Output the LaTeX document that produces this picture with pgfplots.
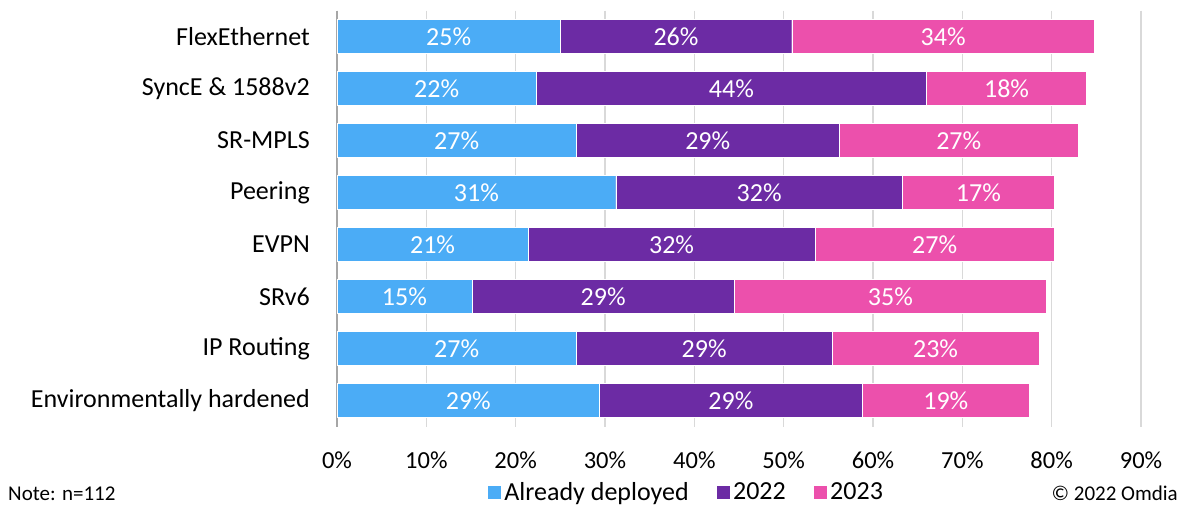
\documentclass[border=0pt]{standalone}
\usepackage{pgfplots}
\usepackage{pgfplotstable}
\pgfplotsset{compat=1.18}
\usepackage{fontspec}
\setmainfont{Carlito}
\definecolor{cblue}{HTML}{4BACF6}
\definecolor{cpurple}{HTML}{6C2BA4}
\definecolor{cpink}{HTML}{EC50AC}
\definecolor{cgrid}{HTML}{D9D9D9}
\definecolor{caxis}{HTML}{A6A6A6}

\pgfplotstableread{
idx a b c
0 25.0 25.9 33.9
1 22.3 43.7 17.9
2 26.8 29.4 26.8
3 31.2 32.1 17.0
4 21.4 32.1 26.8
5 15.1 29.4 34.9
6 26.8 28.6 23.2
7 29.4 29.4 18.7
}\datatable

\pgfplotsset{
  common/.style={
    at={(337pt,80.5pt)}, anchor=south west,
    scale only axis, width=804pt, height=416pt,
    xmin=0, xmax=90, ymin=-0.5, ymax=7.5, y dir=reverse,
  },
}

\begin{document}
\begin{tikzpicture}
\useasboundingbox (0,0) rectangle (1180pt,507pt);
\begin{axis}[common,
  xbar stacked, bar width=34pt,
  axis x line*=bottom, axis y line*=left,
  axis line style={caxis, line width=1.5pt},
  x axis line style={draw=none},
  xtick={0,10,...,90},
  xmajorgrids, grid style={cgrid, line width=1.5pt},
  major tick length=0pt,
  ytick={0,...,7},
  yticklabels={FlexEthernet, SyncE \& 1588v2, SR-MPLS, Peering, EVPN, SRv6, IP Routing, Environmentally hardened},
  yticklabel style={font=\fontsize{26}{30}\selectfont, anchor=east, inner sep=0pt, xshift=-27pt},
  xticklabel={\pgfmathprintnumber{\tick}\%},
  xticklabel style={font=\fontsize{24.5}{28}\selectfont, anchor=base, inner sep=0pt, yshift=-42pt},
  /pgf/number format/assume math mode=true,
  legend columns=3,
  legend style={at={(0.4347,-0.1575)}, anchor=center, draw=none, fill=none,
    font=\fontsize{26}{30}\selectfont,
    /tikz/every even column/.append style={column sep=24pt},
    /tikz/every odd column/.append style={column sep=0pt},
    nodes={inner sep=3pt}},
  legend image code/.code={\fill[#1] (0pt,-7pt) rectangle (14pt,7pt);},
]
\addplot[fill=cblue, draw=white, line width=0.4pt] table[x=a, y=idx] {\datatable};
\addlegendentry{Already deployed}
\addplot[fill=cpurple, draw=white, line width=0.4pt] table[x=b, y=idx] {\datatable};
\addlegendentry{2022}
\addplot[fill=cpink, draw=white, line width=0.4pt] table[x=c, y=idx] {\datatable};
\addlegendentry{2023}
\end{axis}

\begin{axis}[common, hide axis,
  /pgf/number format/assume math mode=true,
  nodes near coords={\pgfmathprintnumber[fixed,precision=0,assume math mode=true]{\pgfplotspointmeta}\%},
  every node near coord/.append style={anchor=center, text=white, font=\fontsize{26}{30}\selectfont},
  point meta=explicit,
]
\addplot[only marks, mark=none] table[x expr=\thisrow{a}/2, y=idx, meta=a] {\datatable};
\addplot[only marks, mark=none] table[x expr=\thisrow{a}+\thisrow{b}/2, y=idx, meta=b] {\datatable};
\addplot[only marks, mark=none] table[x expr=\thisrow{a}+\thisrow{b}+\thisrow{c}/2, y=idx, meta=c] {\datatable};
\end{axis}

\node[anchor=base west, inner sep=0pt, font=\fontsize{21}{25}\selectfont] at (8pt,7pt) {Note: n=112};
\node[anchor=base east, inner sep=0pt, font=\fontsize{21}{25}\selectfont] at (1178pt,7pt) {© 2022 Omdia};
\end{tikzpicture}
\end{document}
